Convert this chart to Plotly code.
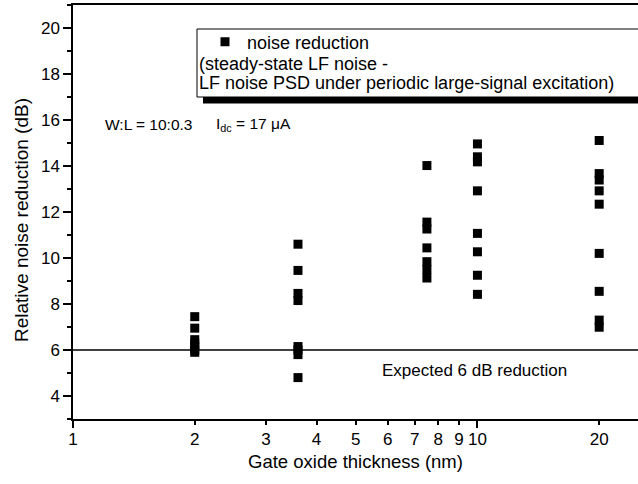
import plotly.graph_objects as go

# ---- data ----
thickness_nm = [2, 3.6, 7.5, 10, 20]
nr_2nm = [7.45, 6.95, 6.45, 6.3, 6.15, 6.0, 5.9]
nr_3p6nm = [10.6, 9.46, 8.46, 8.15, 6.15, 6.0, 5.8, 4.8]
nr_7p5nm = [14.02, 11.56, 11.26, 10.44, 9.84, 9.5, 9.13]
nr_10nm = [14.96, 14.40, 14.18, 12.92, 11.07, 10.27, 9.25, 8.42]
nr_20nm = [15.11, 13.67, 13.39, 12.92, 12.34, 10.2, 8.55, 7.30, 6.99]
expected_db = 6

x_tickvals = [1, 2, 3, 4, 5, 6, 7, 8, 9, 10, 20]
x_ticktext = ["1", "2", "3", "4", "5", "6", "7", "8", "9", "10", "20"]
x_major = [1, 10]
y_tickvals = [4, 6, 8, 10, 12, 14, 16, 18, 20]
y_minor = [3, 5, 7, 9, 11, 13, 15, 17, 19, 21]

groups = [nr_2nm, nr_3p6nm, nr_7p5nm, nr_10nm, nr_20nm]
xs, ys = [], []
for t, vals in zip(thickness_nm, groups):
    xs += [t] * len(vals)
    ys += vals

FONT = "Arial, Liberation Sans, sans-serif"

fig = go.Figure()
fig.add_trace(go.Scatter(
    x=xs, y=ys, mode="markers", name="noise reduction",
    marker=dict(symbol="square", size=9, color="black"),
))
# helper trace for the long-tick overlay axis
fig.add_trace(go.Scatter(x=x_major, y=[None, None], xaxis="x2", yaxis="y",
                         showlegend=False, hoverinfo="skip"))

W, H = 638, 484
L, R, T, B = 73, 0, 5, 65
pw, ph = W - L - R, H - T - B

def px_x(p):
    return (p - L) / pw

def px_y(p):
    return (H - B - p) / ph

xr = [0, 1.397]
fig.update_layout(
    width=W, height=H,
    margin=dict(l=L, r=R, t=T, b=B, pad=0),
    paper_bgcolor="white", plot_bgcolor="white",
    font=dict(family=FONT, size=17, color="black"),
    xaxis=dict(
        type="log", range=xr, tickmode="array", tickvals=x_tickvals, ticktext=x_ticktext,
        ticks="outside", ticklen=4, tickwidth=1.5, tickcolor="black",
        showline=True, linecolor="black", linewidth=1.5, mirror=True,
        showgrid=False, zeroline=False,
        tickfont=dict(size=17),
        title=dict(text="Gate oxide thickness (nm)", font=dict(size=18.5), standoff=7),
    ),
    xaxis2=dict(
        type="log", range=xr, overlaying="x", anchor="y", side="bottom",
        tickmode="array", tickvals=x_major, ticks="outside", ticklen=8, tickwidth=1.5,
        tickcolor="black", showticklabels=False, showline=False, showgrid=False,
        zeroline=False,
    ),
    yaxis=dict(
        range=[3, 21], tickmode="array", tickvals=y_tickvals,
        ticks="outside", ticklen=8, tickwidth=1.5, tickcolor="black",
        minor=dict(tickmode="array", tickvals=y_minor, ticks="outside", ticklen=4,
                   tickwidth=1.5, tickcolor="black", showgrid=False),
        showline=True, linecolor="black", linewidth=1.5, mirror=False,
        showgrid=False, zeroline=False,
        tickfont=dict(size=17),
    ),
    legend=dict(
        x=px_x(203), y=px_y(42), xanchor="left", yanchor="middle",
        bgcolor="rgba(0,0,0,0)", borderwidth=0, font=dict(size=18), itemwidth=34,
    ),
    showlegend=True,
)

# y-axis title (placed to match the reference's vertical offset)
fig.add_annotation(text="Relative noise reduction (dB)", xref="paper", yref="paper",
                   x=px_x(21), y=px_y(220), xanchor="center", yanchor="middle",
                   textangle=-90, showarrow=False, font=dict(size=19))

# expected 6 dB line
fig.add_shape(type="line", xref="paper", x0=0, x1=1, yref="y", y0=expected_db, y1=expected_db,
              line=dict(color="black", width=1.5))
# legend box shadow and frame
fig.add_shape(type="rect", xref="paper", yref="paper",
              x0=px_x(203), x1=1.1, y0=px_y(103.5), y1=px_y(35),
              fillcolor="black", line=dict(width=0))
fig.add_shape(type="rect", xref="paper", yref="paper",
              x0=px_x(197), x1=1.1, y0=px_y(97), y1=px_y(29),
              fillcolor="white", line=dict(color="black", width=1))

fig.add_annotation(text="(steady-state LF noise -", xref="paper", yref="paper",
                   x=px_x(197), y=px_y(64), xanchor="left", yanchor="middle",
                   showarrow=False, font=dict(size=18))
fig.add_annotation(text="LF noise PSD under periodic large-signal excitation)", xref="paper", yref="paper",
                   x=px_x(197), y=px_y(83.5), xanchor="left", yanchor="middle",
                   showarrow=False, font=dict(size=18))
fig.add_annotation(text="W:L = 10:0.3", xref="paper", yref="paper",
                   x=px_x(103), y=px_y(124), xanchor="left", yanchor="middle",
                   showarrow=False, font=dict(size=15.5))
fig.add_annotation(text="I<sub>dc</sub> = 17 \u03bcA", xref="paper", yref="paper",
                   x=px_x(214), y=px_y(124), xanchor="left", yanchor="middle",
                   showarrow=False, font=dict(size=15.5))
fig.add_annotation(text="Expected 6 dB reduction", xref="paper", yref="y",
                   x=px_x(380), y=5.1, xanchor="left", yanchor="middle",
                   showarrow=False, font=dict(size=17))

fig.write_html("out.html")
